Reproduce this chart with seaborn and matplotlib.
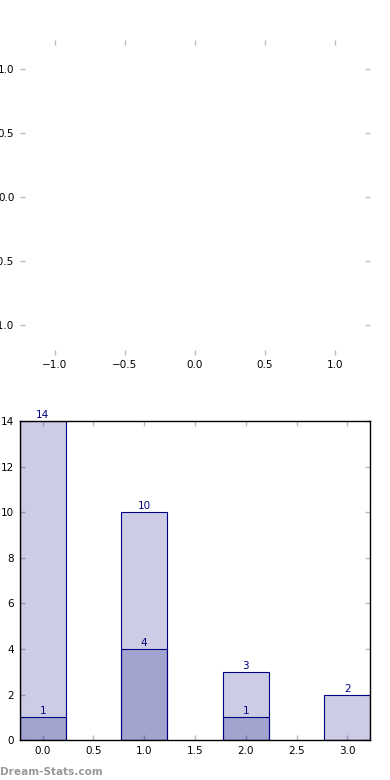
import numpy as np
import pandas as pd
import matplotlib
matplotlib.use("Agg")
import matplotlib.pyplot as plt
import seaborn as sns

# ============================================================
# DATA
# ============================================================
positions = [0, 1, 2, 3]
total_counts = [14, 10, 3, 2]
sub_counts = [1, 4, 1, 0]
pie_ticks = [-1.0, -0.5, 0.0, 0.5, 1.0]
bar_ticks = [0.0, 0.5, 1.0, 1.5, 2.0, 2.5, 3.0]
watermark = "Dream-Stats.com"

df = pd.DataFrame({"pos": positions, "total": total_counts, "sub": sub_counts})

# ============================================================
# STYLE
# ============================================================
sns.set_style("white")
plt.rcParams['font.family'] = ['DejaVu Sans']
plt.rcParams['font.size'] = 7.5
tick_kw = dict(direction='in', length=3.5, width=1, color='#bbbbbb',
               labelcolor='black', labelsize=7.5, top=True, right=True,
               bottom=True, left=True)

fig = plt.figure(figsize=(3.9, 7.8), dpi=100)

# ============================================================
# TOP: empty (pie) axes
# ============================================================
ax1 = fig.add_axes([0.051, 0.545, 0.898, 0.404])
ax1.set_xlim(-1.25, 1.25)
ax1.set_ylim(-1.23, 1.23)
ax1.set_xticks(pie_ticks)
ax1.set_yticks(pie_ticks)
for s in ax1.spines.values():
    s.set_visible(False)
ax1.tick_params(axis='both', pad=4, **tick_kw)

# ============================================================
# BOTTOM: overlapping bars
# ============================================================
ax2 = fig.add_axes([0.051, 0.051, 0.898, 0.409])
sns.barplot(data=df, x="pos", y="total", native_scale=True, width=0.45,
            color="navy", edgecolor="navy", linewidth=0.8,
            saturation=1, ax=ax2)
sns.barplot(data=df, x="pos", y="sub", native_scale=True, width=0.45,
            color="navy", edgecolor="navy", linewidth=0.8,
            saturation=1, ax=ax2)
# translucent fill, solid edges
for bar in ax2.patches:
    bar.set_facecolor((0, 0, 0.5, 0.2))
    bar.set_edgecolor("navy")

for p, v in zip(positions, total_counts):
    ax2.text(p, v + 0.05, str(v), ha='center', va='bottom', color='navy', fontsize=7.5)
for p, v in zip(positions, sub_counts):
    if v > 0:
        ax2.text(p, v + 0.05, str(v), ha='center', va='bottom', color='navy', fontsize=7.5)

ax2.set_xlim(-0.225, 3.225)
ax2.set_ylim(0, 14)
ax2.set_xticks(bar_ticks)
ax2.set_xticklabels([f"{t:.1f}" for t in bar_ticks])
ax2.set_yticks(np.arange(0, 15, 2))
ax2.set_xlabel("")
ax2.set_ylabel("")
for s in ax2.spines.values():
    s.set_visible(True)
    s.set_color('black')
    s.set_linewidth(1)
ax2.tick_params(axis='both', pad=4, **tick_kw)

fig.text(0.0, 0.004, watermark, color='#999999', fontsize=7.6, fontweight='bold',
         ha='left', va='bottom')

fig.savefig("out.png", dpi=100)
